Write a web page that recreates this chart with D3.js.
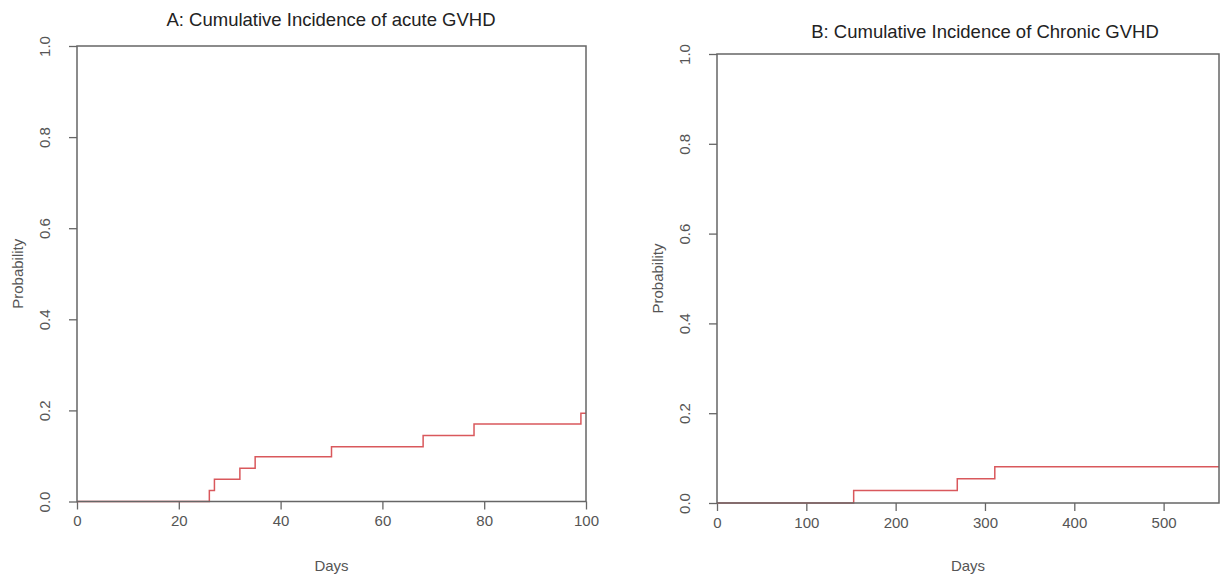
<!DOCTYPE html>
<html>
<head>
<meta charset="utf-8">
<script src="https://cdn.jsdelivr.net/npm/d3@7"></script>
<style>
  body { margin: 0; background: #fff; }
  text { font-family: "Liberation Sans", Arial, sans-serif; }
</style>
</head>
<body>
<div class="canvas"></div>
<script>
// ---- DATA --- //
const acuteDays = [0, 26, 27, 32, 35, 50, 68, 78, 99, 100];
const acuteProb = [0, 0.024, 0.049, 0.073, 0.098, 0.12, 0.145, 0.17, 0.194, 0.194];

const chronicDays = [0, 153, 269, 311, 562];
const chronicProb = [0, 0.028, 0.054, 0.081, 0.081];

const probTicks = [0, 0.2, 0.4, 0.6, 0.8, 1.0];
const acuteDayTicks = [0, 20, 40, 60, 80, 100];
const chronicDayTicks = [0, 100, 200, 300, 400, 500];

const titles = ['A: Cumulative Incidence of acute GVHD', 'B: Cumulative Incidence of Chronic GVHD'];


// ---- SVG SETUP --- //
const width = 1228;
const height = 581;

const svg = d3.select('.canvas')
    .append('svg')
    .attr('width', width)
    .attr('height', height);

const lineColor = '#d9585c';
const axisColor = '#666';
const labelColor = '#555';


// ---- DRAW ONE PANEL --- //
const drawPanel = (box, days, prob, dayTicks, dayMax, title, titleX, titleY) => {
    const graphWidth = box.right - box.left;
    const graphHeight = box.bottom - box.top;

    const graph = svg.append('g')
        .attr('transform', `translate(${box.left},${box.top})`);

    const x = d3.scaleLinear().domain([0, dayMax]).range([0, graphWidth]);
    const y = d3.scaleLinear().domain([0, 1]).range([graphHeight, 0]);

    // axes
    const xAxis = d3.axisBottom(x)
        .tickValues(dayTicks)
        .tickFormat(d3.format('d'))
        .tickSize(8)
        .tickPadding(6);

    const yAxis = d3.axisLeft(y)
        .tickValues(probTicks)
        .tickFormat(d3.format('.1f'))
        .tickSize(8);

    const xAxisGroup = graph.append('g')
        .attr('transform', `translate(0, ${graphHeight})`)
        .call(xAxis);

    const yAxisGroup = graph.append('g')
        .call(yAxis);

    [xAxisGroup, yAxisGroup].forEach(g => {
        g.select('.domain').remove();
        g.selectAll('line').attr('stroke', axisColor).attr('stroke-width', 1.3);
        g.selectAll('text')
            .attr('fill', labelColor)
            .style('font-size', '15px');
    });

    yAxisGroup.selectAll('text')
        .attr('transform', 'rotate(-90)')
        .attr('text-anchor', 'middle')
        .attr('x', 0)
        .attr('y', -27)
        .attr('dy', 0);

    // step line
    const line = d3.line()
        .x((d, i) => x(days[i]))
        .y((d, i) => y(prob[i]))
        .curve(d3.curveStepAfter);

    graph.append('path')
        .datum(days)
        .attr('d', line)
        .attr('fill', 'none')
        .attr('stroke', lineColor)
        .attr('stroke-width', 1.5);

    // frame
    graph.append('rect')
        .attr('width', graphWidth)
        .attr('height', graphHeight)
        .attr('fill', 'none')
        .attr('stroke', axisColor)
        .attr('stroke-width', 1.5);

    // labels
    svg.append('text')
        .attr('x', titleX)
        .attr('y', titleY)
        .attr('text-anchor', 'middle')
        .attr('fill', '#222')
        .style('font-size', '18.5px')
        .text(title);

    svg.append('text')
        .attr('x', box.left + graphWidth / 2)
        .attr('y', 571)
        .attr('text-anchor', 'middle')
        .attr('fill', labelColor)
        .style('font-size', '15px')
        .text('Days');

    svg.append('text')
        .attr('transform', `translate(${box.left - 54}, ${box.top + graphHeight / 2}) rotate(-90)`)
        .attr('text-anchor', 'middle')
        .attr('fill', labelColor)
        .style('font-size', '15px')
        .text('Probability');
};

drawPanel({ left: 77, right: 586, top: 46, bottom: 501.5 }, acuteDays, acuteProb, acuteDayTicks, 100, titles[0], 331, 26);
drawPanel({ left: 717, right: 1219, top: 54, bottom: 503 }, chronicDays, chronicProb, chronicDayTicks, 562, titles[1], 985, 38);
</script>
</body>
</html>
